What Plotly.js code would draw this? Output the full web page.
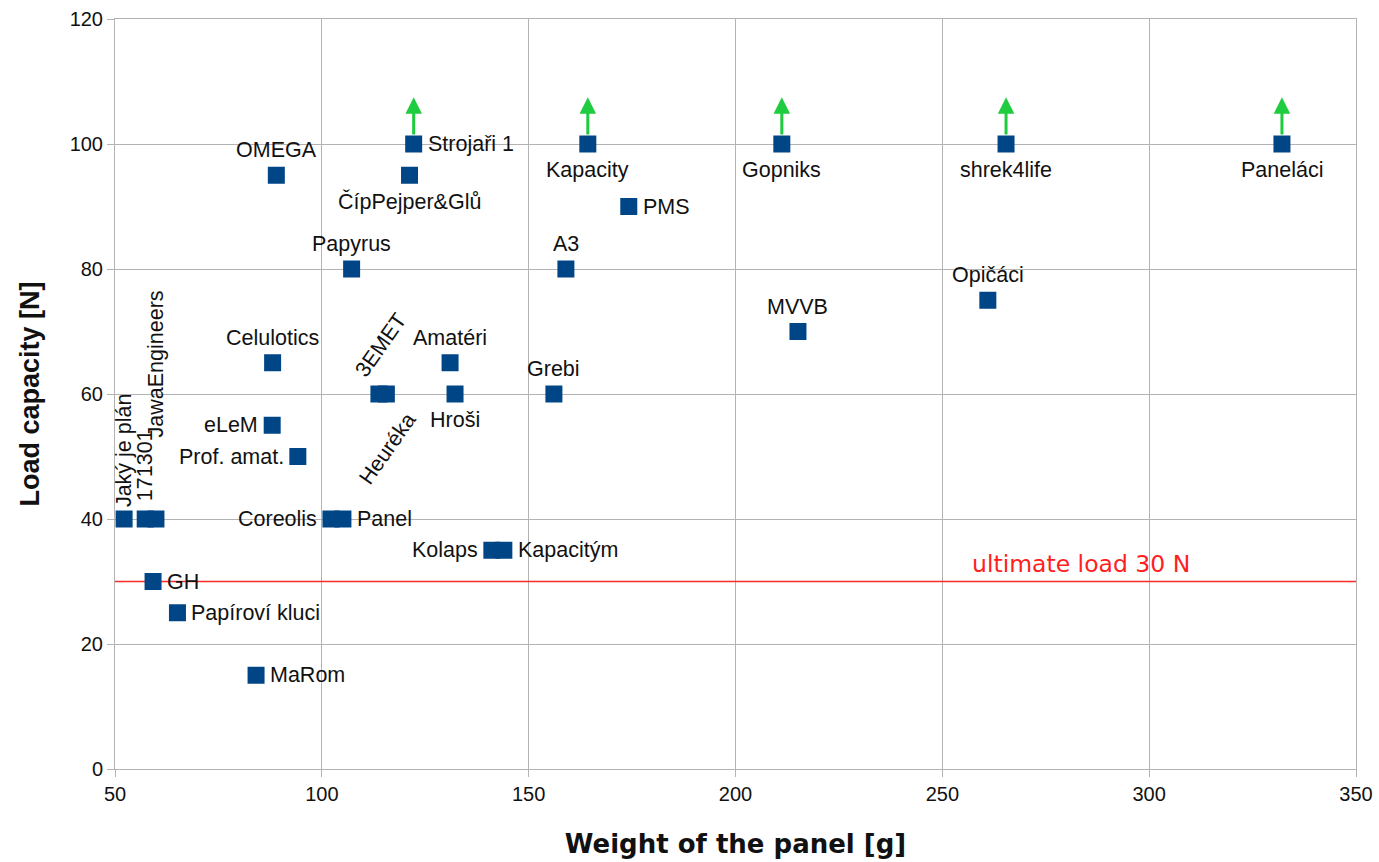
<!DOCTYPE html>
<html>
<head>
<meta charset="utf-8">
<script src="https://cdn.plot.ly/plotly-3.0.1.min.js"></script>
<style>html,body{margin:0;padding:0;background:#fff;}#chart{width:1379px;height:862px;}</style>
</head>
<body>
<div id="chart"></div>
<script>
// ---- data ----
const teams = ["Jaký je plán","171301","JawaEngineers","Celulotics","eLeM","Prof. amat.","Coreolis","Panel","GH","Papíroví kluci","MaRom","3EMET","Heuréka","Amatéri","Hroši","Kolaps","Kapacitým","Grebi","A3","PMS","Kapacity","Strojaři 1","ČípPejper&Glů","OMEGA","Papyrus","Gopniks","MVVB","Opičáci","shrek4life","Paneláci"];
const weights = [52.2,57.3,59.9,88.1,88.0,94.2,102.2,105.1,59.2,65.1,84.1,113.8,115.6,131.0,132.2,141.1,144.0,156.1,159.0,174.2,164.3,122.2,121.2,89.0,107.2,211.2,215.1,261.0,265.4,332.1];
const loads = [40,40,40,65,55,50,40,40,30,25,15,60,60,65,60,35,35,60,80,90,100,100,95,95,80,100,70,75,100,100];
// teams whose panel did not break at the maximum test load
const notBroken = ["Strojaři 1","Kapacity","Gopniks","shrek4life","Paneláci"];
const ultimateLoad = 30;
const xTickLabels = ["50","100","150","200","250","300","350"];
const yTickLabels = ["0","20","40","60","80","100","120"];

// ---- label placement (style only) ----
const place = {
  "Jaký je plán": {pos:"rot", dx:0, dy:10, angle:-90},
  "171301": {pos:"rot", dx:0, dy:16, angle:-90},
  "JawaEngineers": {pos:"rot", dx:0, dy:80, angle:-90},
  "3EMET": {pos:"center", dx:2, dy:49, angle:-55},
  "Heuréka": {pos:"center", dx:1, dy:-55, angle:-55},
  "eLeM":"left","Prof. amat.":"left","Coreolis":"left","Kolaps":"left",
  "Panel":"right","GH":"right","Papíroví kluci":"right","MaRom":"right","Kapacitým":"right","PMS":"right","Strojaři 1":"right",
  "Hroši":"bottom","Kapacity":"bottom","ČípPejper&Glů":"bottom","Gopniks":"bottom","shrek4life":"bottom","Paneláci":"bottom"
};

const labelFont = {family:"Liberation Sans, Arial, sans-serif", size:21.5, color:"#111"};
const annotations = [];
teams.forEach((t, i) => {
  const p = place[t] || "top";
  const a = {x: weights[i], y: loads[i], xref:"x", yref:"y", text: t, showarrow:false, font: labelFont};
  if (typeof p === "object") {
    a.textangle = p.angle;
    a.xanchor = "center";
    a.yanchor = p.pos === "rot" ? "bottom" : "middle";
    a.xshift = p.dx; a.yshift = p.dy;
  } else if (p === "top") { a.xanchor="center"; a.yanchor="bottom"; a.yshift=11; }
  else if (p === "bottom") { a.xanchor="center"; a.yanchor="top"; a.yshift=-12; }
  else if (p === "left") { a.xanchor="right"; a.yanchor="middle"; a.xshift=-12; }
  else if (p === "right") { a.xanchor="left"; a.yanchor="middle"; a.xshift=12; }
  annotations.push(a);
});
// green arrows for unbroken panels
teams.forEach((t, i) => {
  if (notBroken.indexOf(t) < 0) return;
  annotations.push({
    x: weights[i], y: loads[i] + 7.5, ax: weights[i], ay: loads[i],
    xref:"x", yref:"y", axref:"x", ayref:"y", text:"", showarrow:true,
    arrowhead:2, arrowsize:1.1, arrowwidth:3, arrowcolor:"#1fcc3f",
    startstandoff:8, standoff:0
  });
});
// ultimate load label
annotations.push({
  x: 283.5, y: ultimateLoad, xref:"x", yref:"y", text:"ultimate load " + ultimateLoad + " N",
  showarrow:false, xanchor:"center", yanchor:"bottom", yshift:2,
  font:{family:"DejaVu Sans, sans-serif", size:23.5, color:"#ff2020"}
});

const traces = [
  {
    x: [50, 350], y: [ultimateLoad, ultimateLoad], mode:"lines", type:"scatter",
    line:{color:"#ff2a2a", width:1.5}, hoverinfo:"skip", showlegend:false, cliponaxis:false
  },
  {
    x: weights, y: loads, text: teams, mode:"markers", type:"scatter",
    marker:{symbol:"square", size:17, color:"#004586"}, showlegend:false
  }
];

const axisCommon = {
  showgrid:true, gridcolor:"#b3b3b3", gridwidth:1, zeroline:false,
  showline:true, linecolor:"#b3b3b3", linewidth:1, mirror:true,
  ticks:"outside", ticklen:7, tickcolor:"#b3b3b3",
  tickfont:{family:"Liberation Sans, Arial, sans-serif", size:20, color:"#111"}
};

const layout = {
  width:1379, height:862,
  margin:{l:115, r:23, t:19, b:93},
  paper_bgcolor:"#fff", plot_bgcolor:"#fff",
  showlegend:false,
  xaxis: Object.assign({}, axisCommon, {
    range:[50,350], tickmode:"array",
    tickvals: xTickLabels.map(Number), ticktext: xTickLabels,
    title:{text:"Weight of the panel [g]", standoff:30,
      font:{family:"DejaVu Sans, sans-serif", size:26, color:"#111", weight:"bold"}}
  }),
  yaxis: Object.assign({}, axisCommon, {
    range:[0,120], tickmode:"array",
    tickvals: yTickLabels.map(Number), ticktext: yTickLabels,
    title:{text:"Load capacity [N]", standoff:22,
      font:{family:"Liberation Sans, Arial, sans-serif", size:27, color:"#111", weight:"bold"}}
  }),
  annotations: annotations
};

Plotly.newPlot("chart", traces, layout, {displayModeBar:false, staticPlot:true});
</script>
</body>
</html>
